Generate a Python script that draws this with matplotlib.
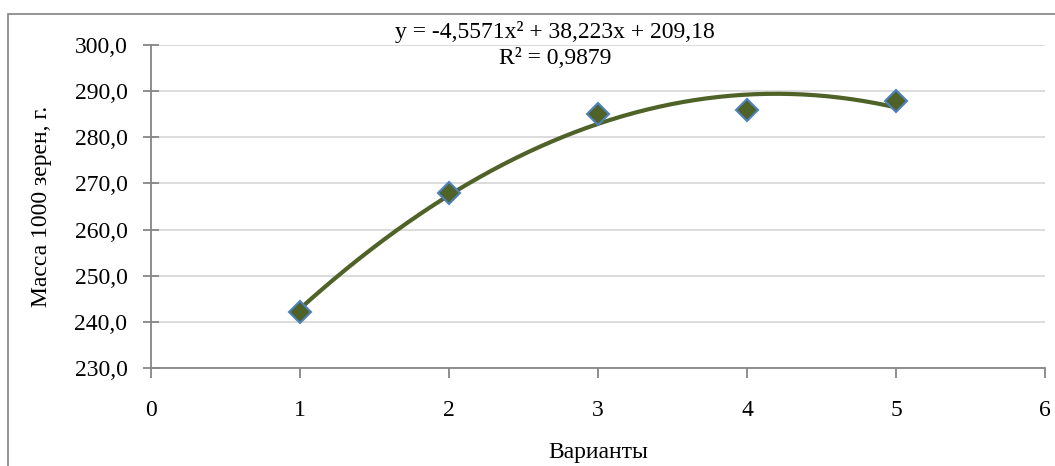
import numpy as np
import matplotlib.pyplot as plt
from matplotlib.patches import Rectangle

plt.rcParams['font.family'] = ['Liberation Serif', 'DejaVu Serif']

variants = [1, 2, 3, 4, 5]
mass = [242.2, 268.0, 285.0, 285.9, 287.8]
equation = 'y = -4,5571x² + 38,223x + 209,18'
r_squared = 'R² = 0,9879'
y_ticks = [230, 240, 250, 260, 270, 280, 290, 300]
x_ticks = [0, 1, 2, 3, 4, 5, 6]

fig = plt.figure(figsize=(10.55, 4.66), dpi=100)
ax = fig.add_axes([151 / 1055, 1 - 368 / 466, 894 / 1055, 323 / 466])

# outer chart frame (right and bottom edges are cut off)
fig.patches.append(Rectangle((8 / 1055, -0.1), 1.2, 1 - 14 / 466 + 0.1,
                             transform=fig.transFigure, fill=False,
                             edgecolor='#8c8c8c', linewidth=1.3))

# polynomial trendline, order 2
coef = np.polyfit(variants, mass, 2)
xs = np.linspace(1, 5, 200)
ax.plot(xs, np.polyval(coef, xs), color='#4F6228', linewidth=3, zorder=3)

ax.plot(variants, mass, linestyle='none', marker='D', markersize=11,
        markerfacecolor='#4F6228', markeredgecolor='#4F81BD',
        markeredgewidth=1.5, zorder=4)

ax.set_xlim(0, 6)
ax.set_ylim(230, 300)
ax.set_xticks(x_ticks)
ax.set_yticks(y_ticks)
ax.set_yticklabels([f'{v:.1f}'.replace('.', ',') for v in y_ticks])
ax.grid(axis='y', color='#d9d9d9', linewidth=1.3)
ax.set_axisbelow(True)

for s in ['top', 'right']:
    ax.spines[s].set_visible(False)
for s in ['left', 'bottom']:
    ax.spines[s].set_color('#868686')
    ax.spines[s].set_linewidth(1.3)

ax.tick_params(axis='y', direction='inout', length=12, color='#868686',
               width=1.3, labelsize=17, pad=11)
ax.tick_params(axis='x', direction='out', length=7, color='#868686',
               width=1.3, labelsize=17, pad=16)

ax.set_ylabel('Масса 1000 зерен, г.', fontsize=17, labelpad=16)
ax.set_xlabel('Варианты', fontsize=17, labelpad=15)

fig.text(555 / 1055, 1 - 32 / 466, equation, fontsize=17,
         ha='center', va='center')
fig.text(555 / 1055, 1 - 59 / 466, r_squared, fontsize=17,
         ha='center', va='center')

fig.savefig('out.png', dpi=100)
